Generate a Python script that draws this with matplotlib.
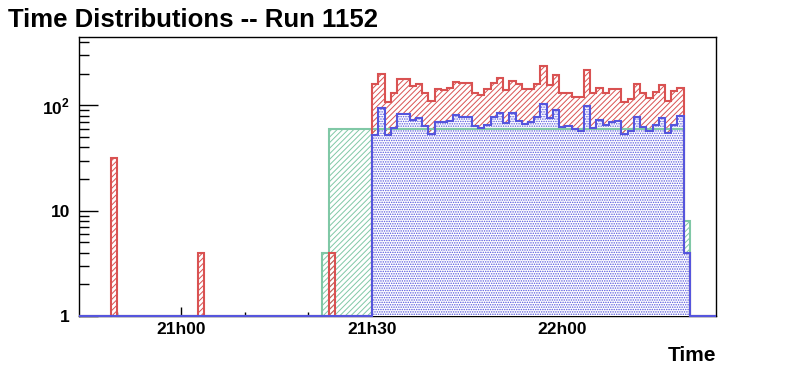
import numpy as np
import matplotlib
matplotlib.use('Agg')
import matplotlib.pyplot as plt
from matplotlib.ticker import FixedLocator, FixedFormatter, MultipleLocator, NullFormatter

plt.rcParams['font.family'] = ['Liberation Sans', 'DejaVu Sans']
plt.rcParams['font.weight'] = 'bold'
plt.rcParams['mathtext.fontset'] = 'custom'
plt.rcParams['mathtext.rm'] = 'Liberation Sans:bold'
plt.rcParams['mathtext.bf'] = 'Liberation Sans:bold'
plt.rcParams['hatch.linewidth'] = 0.7

# time axis in minutes after 21h00, bins of ~59 s
t_start = 30.1
bin_w = 0.98

# bins 0..50 starting at t_start
red_main = [161, 197, 108, 130, 179, 179, 154, 161, 132, 110,
            144, 141, 147, 168, 164, 164, 132, 127, 144, 164,
            182, 141, 172, 161, 144, 144, 161, 238, 158, 196,
            130, 130, 121, 121, 217, 130, 147, 132, 144, 144,
            108, 115, 161, 130, 119, 135, 157, 111, 138, 147,
            4]
blue_main = [52, 95, 52, 61, 83, 83, 72, 76, 64, 54,
             70, 70, 71, 81, 77, 77, 64, 61, 65, 77,
             85, 68, 85, 71, 67, 70, 77, 104, 76, 90,
             62, 64, 60, 57, 99, 61, 72, 65, 70, 71,
             54, 57, 77, 63, 57, 65, 76, 55, 65, 79,
             4]
# early isolated red entries (bin index relative to t_start)
red_extra_bins = [-42, -28, -7]
red_extra_counts = [32, 4, 4]
# green starts at bin -8
green_first = -8
green_counts = [4, 60, 60, 60, 60, 60, 60, 60,
                60, 60, 60, 60, 60, 60, 60, 60, 60, 60,
                60, 60, 60, 60, 60, 60, 60, 60, 60, 60,
                60, 60, 60, 60, 60, 60, 60, 60, 60, 60,
                60, 60, 60, 60, 60, 60, 60, 60, 60, 60,
                60, 60, 60, 60, 60, 60, 60, 60, 60, 60,
                8]

tick_pos = [0, 30, 60]
tick_lab = ['21h00', '21h30', '22h00']

xmin, xmax = -16.05, 84.19
ymin, ymax = 1, 447

kmin, kmax = -48, 56
nb = kmax - kmin
edges = np.clip(t_start + bin_w * np.arange(kmin, kmax + 1), xmin, xmax)

red = np.zeros(nb)
red[-kmin:-kmin + len(red_main)] = red_main
for b, c in zip(red_extra_bins, red_extra_counts):
    red[b - kmin] = c
blue = np.zeros(nb)
blue[-kmin:-kmin + len(blue_main)] = blue_main
green = np.zeros(nb)
green[green_first - kmin:green_first - kmin + len(green_counts)] = green_counts

c_red = '#d95252'
c_blue = '#5555dd'
c_green = '#80c8a6'

fig = plt.figure(figsize=(7.96, 3.72), dpi=100)
ax = fig.add_axes([79 / 796, 56 / 372, 637 / 796, 279 / 372])
ax.set_yscale('log')

def fill(vals, color, hatch, face='none', z=1):
    ax.stairs(np.maximum(vals, 0.5), edges, baseline=0.5, fill=True, hatch=hatch,
              facecolor=face, edgecolor=color, linewidth=0, zorder=z)

def outline(vals, color, z):
    ax.stairs(np.maximum(vals, 1), edges, baseline=None, color=color,
              linewidth=1.5, zorder=z, clip_on=False)

fill(green, c_green, '//////', z=1)
fill(red, c_red, '//////', z=2)
fill(blue, c_blue, '.......', face='white', z=3)
outline(green, c_green, 4)
outline(red, c_red, 5)
outline(blue, c_blue, 6)

ax.set_xlim(xmin, xmax)
ax.set_ylim(ymin, ymax)

ax.xaxis.set_major_locator(FixedLocator(tick_pos))
ax.xaxis.set_major_formatter(FixedFormatter(tick_lab))
ax.xaxis.set_minor_locator(MultipleLocator(10))
ax.xaxis.set_minor_formatter(NullFormatter())
ax.yaxis.set_major_locator(FixedLocator([1, 10, 100]))
ax.yaxis.set_major_formatter(FixedFormatter(['1', '10', r'$10^{2}$']))
ax.yaxis.set_minor_locator(FixedLocator([2, 3, 4, 5, 6, 7, 8, 9,
                                         20, 30, 40, 50, 60, 70, 80, 90,
                                         200, 300, 400]))
ax.yaxis.set_minor_formatter(NullFormatter())

ax.tick_params(axis='x', which='major', direction='in', length=6.5, width=1,
               labelsize=12.5, pad=4, top=False)
ax.tick_params(axis='x', which='minor', direction='in', length=3.2, width=1, top=False)
ax.tick_params(axis='y', which='major', direction='in', length=13.7, width=1,
               labelsize=12.5, pad=6.5, right=False)
ax.tick_params(axis='y', which='minor', direction='in', length=7.2, width=1, right=False)
for s in ax.spines.values():
    s.set_linewidth(1)
    s.set_zorder(0.5)

fig.text(8 / 796, 1 - 27 / 372, 'Time Distributions -- Run 1152', fontsize=18.5,
         fontweight='bold', va='baseline', ha='left')
fig.text(716 / 796, 1 - 361 / 372, 'Time', fontsize=15, fontweight='bold',
         va='baseline', ha='right')

fig.savefig('out.png', dpi=100)
